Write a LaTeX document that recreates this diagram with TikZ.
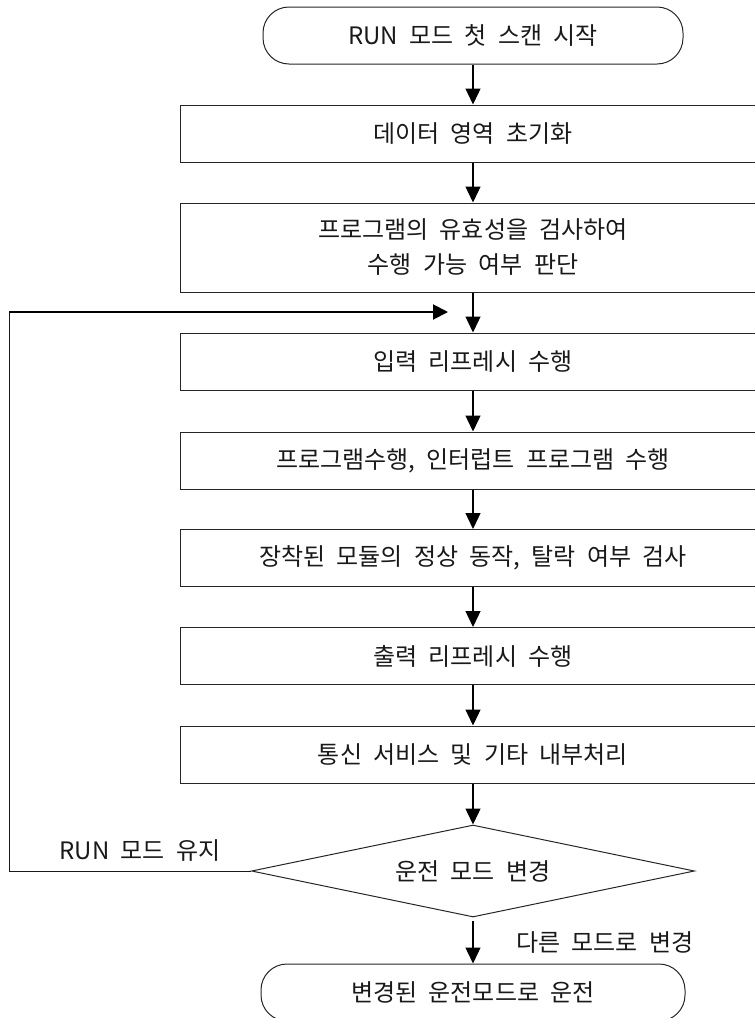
\documentclass[tikz,border=0pt]{standalone}
\usepackage{fontspec}
\setmainfont[WordSpace=2.1]{Noto Sans CJK KR}
\usetikzlibrary{arrows.meta,shapes.geometric}
\begin{document}
\begin{tikzpicture}[x=1pt,y=-1pt,
  every node/.style={font=\fontsize{24}{35}\selectfont, text=black!90},
  procbox/.style={draw=black!85, line width=1pt, minimum width=586pt, minimum height=57pt, inner sep=0pt, align=center},
  termbox/.style={draw=black!85, line width=1pt, rounded corners=26pt, minimum height=57pt, inner sep=0pt},
  decbox/.style={draw=black!85, line width=1pt, diamond, aspect=4.8, minimum width=443pt, minimum height=92pt, inner sep=0pt},
  flowarrow/.style={-{Triangle[length=16pt,width=15pt]}, line width=1.3pt},
  backarrow/.style={-{Triangle[length=15pt,width=15pt]}, line width=2pt},
  thinline/.style={line width=1pt, draw=black!90},
  lbl/.style={inner sep=0pt}
]
\useasboundingbox (0,0) rectangle (755,1018);
\clip (0,0) rectangle (755,1018);

\node[termbox, minimum width=420pt] (start) at (473,35.5) {RUN 모드 첫 스캔 시작};
\node[procbox] (b1) at (473,133.5) {데이터 영역 초기화};
\node[procbox, minimum height=89pt] (b2) at (473,247.5) {프로그램의 유효성을 검사하여\\수행 가능 여부 판단};
\node[procbox] (b3) at (473,361.5) {입력 리프레시 수행};
\node[procbox] (b4) at (473,460.5) {프로그램수행, 인터럽트 프로그램 수행};
\node[procbox] (b5) at (473,558) {장착된 모듈의 정상 동작, 탈락 여부 검사};
\node[procbox] (b6) at (473,656) {출력 리프레시 수행};
\node[procbox] (b7) at (473,754.5) {통신 서비스 및 기타 내부처리};
\node[decbox] (dec) at (473,871) {운전 모드 변경};
\node[termbox, minimum width=424pt] (stop) at (473,992.5) {변경된 운전모드로 운전};

\node[lbl] (keep) at (140,851) {RUN 모드 유지};
\node[lbl, anchor=west] (chg) at (516,943) {다른 모드로 변경};

\coordinate (c1) at (9,871);
\coordinate (c2) at (9,312);
\coordinate (fbend) at (448,312);

\draw[flowarrow] (start) -- (b1);
\draw[flowarrow] (b1) -- (b2);
\draw[flowarrow] (b2) -- (b3);
\draw[flowarrow] (b3) -- (b4);
\draw[flowarrow] (b4) -- (b5);
\draw[flowarrow] (b5) -- (b6);
\draw[flowarrow] (b6) -- (b7);
\draw[flowarrow] (b7) -- (dec);
\draw[flowarrow, shorten <=3pt] (dec) -- (stop);

\draw[thinline] (dec.west) -- (c1) -- (c2);
\draw[backarrow] (c2) -- (fbend);
\end{tikzpicture}
\end{document}
